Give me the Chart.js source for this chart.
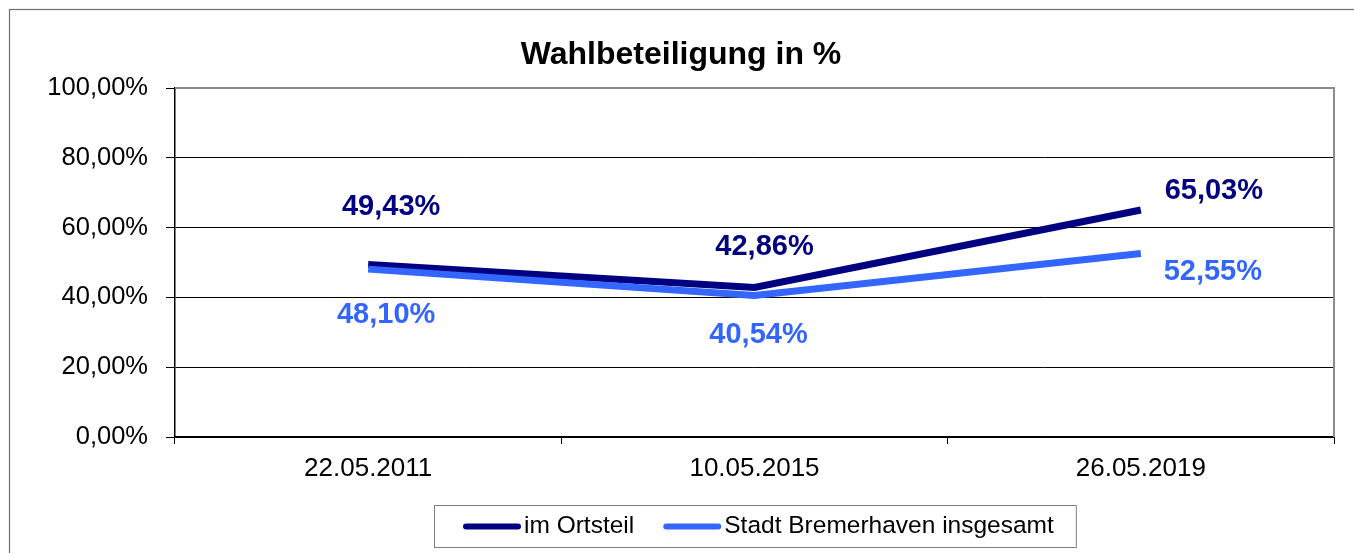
<!DOCTYPE html>
<html>
<head>
<meta charset="utf-8">
<script src="https://cdn.jsdelivr.net/npm/chart.js@4/dist/chart.umd.min.js"></script>
<style>
  html, body { margin: 0; padding: 0; background: #fff; }
  #wrap { position: relative; width: 1354px; height: 553px; }
</style>
</head>
<body>
<div id="wrap"><canvas id="chart" width="1354" height="553"></canvas></div>
<script>
const dates = ['22.05.2011', '10.05.2015', '26.05.2019'];
const ortsteil = [49.43, 42.86, 65.03];
const bremerhaven = [48.10, 40.54, 52.55];
const yTicks = [0, 20, 40, 60, 80, 100];

const FONT = '"Liberation Sans", Arial, sans-serif';
const DARK = '#000080';
const LIGHT = '#3366FF';

// hand placed value labels, offset from each point (dx, dy)
const labelOffsets = [
  [[23, -57], [10, -40], [73, -19]],
  [[18, 46], [4, 39], [72, 18]]
];

const pct = v => v.toFixed(2).replace('.', ',') + '%';

const decor = {
  id: 'decor',
  beforeDraw(chart) {
    const ctx = chart.ctx;
    ctx.save();
    ctx.strokeStyle = '#6e6e6e';
    ctx.lineWidth = 1.2;
    ctx.strokeRect(9.5, 9.5, 1500, 700);
    ctx.restore();
  },
  beforeDatasetsDraw(chart) {
    const { ctx, chartArea: a } = chart;
    ctx.save();
    ctx.strokeStyle = '#8c8c8c';
    ctx.lineWidth = 2;
    ctx.beginPath();
    ctx.moveTo(a.left, a.top);
    ctx.lineTo(a.right, a.top);
    ctx.lineTo(a.right, a.bottom);
    ctx.stroke();
    ctx.restore();
  },
  afterDatasetsDraw(chart) {
    const ctx = chart.ctx;
    ctx.save();
    ctx.font = 'bold 29px ' + FONT;
    ctx.textAlign = 'center';
    ctx.textBaseline = 'middle';
    chart.data.datasets.forEach((ds, i) => {
      chart.getDatasetMeta(i).data.forEach((pt, j) => {
        const [dx, dy] = labelOffsets[i][j];
        ctx.fillStyle = ds.borderColor;
        ctx.fillText(pct(ds.data[j]), pt.x + dx, pt.y + dy);
      });
    });
    ctx.restore();
  },
  afterDraw(chart) {
    const { ctx, chartArea: a } = chart;
    ctx.save();
    // title
    ctx.font = 'bold 32px ' + FONT;
    ctx.fillStyle = '#000';
    ctx.textAlign = 'center';
    ctx.textBaseline = 'alphabetic';
    ctx.fillText('Wahlbeteiligung in %', 681, 64);

    // legend with frame
    ctx.font = '24.5px ' + FONT;
    const items = chart.data.datasets.map(ds => ({ text: ds.label, color: ds.borderColor, w: ctx.measureText(ds.label).width }));
    const padL = 29, padR = 22, lineW = 58, gapT = 3, gapItem = 29;
    let total = padL + padR;
    items.forEach((it, k) => { total += lineW + gapT + it.w + (k ? gapItem : 0); });
    const cx = (a.left + a.right) / 2;
    const boxL = Math.round(cx - total / 2), boxT = 505, boxH = 42;
    ctx.strokeStyle = '#808080';
    ctx.lineWidth = 1;
    ctx.strokeRect(boxL + 0.5, boxT + 0.5, total, boxH);
    let x = boxL + padL;
    const yMid = boxT + boxH / 2 + 0.5;
    ctx.textAlign = 'left';
    ctx.textBaseline = 'middle';
    items.forEach((it, k) => {
      if (k) x += gapItem;
      ctx.strokeStyle = it.color;
      ctx.lineWidth = 6;
      ctx.lineCap = 'round';
      ctx.beginPath();
      ctx.moveTo(x + 3, yMid);
      ctx.lineTo(x + lineW - 3, yMid);
      ctx.stroke();
      x += lineW + gapT;
      ctx.fillStyle = '#000';
      ctx.fillText(it.text, x, yMid);
      x += it.w;
    });
    ctx.restore();
  }
};

new Chart(document.getElementById('chart'), {
  type: 'line',
  data: {
    labels: dates,
    datasets: [
      {
        label: 'im Ortsteil',
        data: ortsteil,
        borderColor: DARK,
        backgroundColor: DARK,
        borderWidth: 7,
        pointRadius: 0,
        tension: 0,
        fill: false,
        order: 1
      },
      {
        label: 'Stadt Bremerhaven insgesamt',
        data: bremerhaven,
        borderColor: LIGHT,
        backgroundColor: LIGHT,
        borderWidth: 7,
        pointRadius: 0,
        tension: 0,
        fill: false,
        order: 0
      }
    ]
  },
  options: {
    responsive: false,
    animation: false,
    events: [],
    layout: { padding: { top: 88, right: 20, left: 0, bottom: 0 } },
    plugins: {
      legend: { display: false },
      title: { display: false },
      tooltip: { enabled: false }
    },
    scales: {
      x: {
        offset: true,
        ticks: { color: '#000', font: { family: FONT, size: 26 }, padding: 9, maxRotation: 0 },
        grid: { offset: true, drawOnChartArea: false, drawTicks: true, tickLength: 7, color: '#000', tickColor: '#000' },
        border: { color: '#000', width: 1.5 },
        afterFit: s => { s.height = 116; }
      },
      y: {
        min: 0,
        max: 100,
        afterBuildTicks: s => { s.ticks = yTicks.map(v => ({ value: v })); },
        ticks: { color: '#000', font: { family: FONT, size: 25.5 }, padding: 18, callback: v => pct(v) },
        grid: {
          color: c => (c.tick && c.tick.value === 100) ? 'rgba(0,0,0,0)' : '#000',
          tickColor: '#000',
          lineWidth: 1,
          tickLength: 9
        },
        border: { color: '#000', width: 1.5 },
        afterFit: s => { s.width = 175; }
      }
    }
  },
  plugins: [decor]
});
</script>
</body>
</html>
